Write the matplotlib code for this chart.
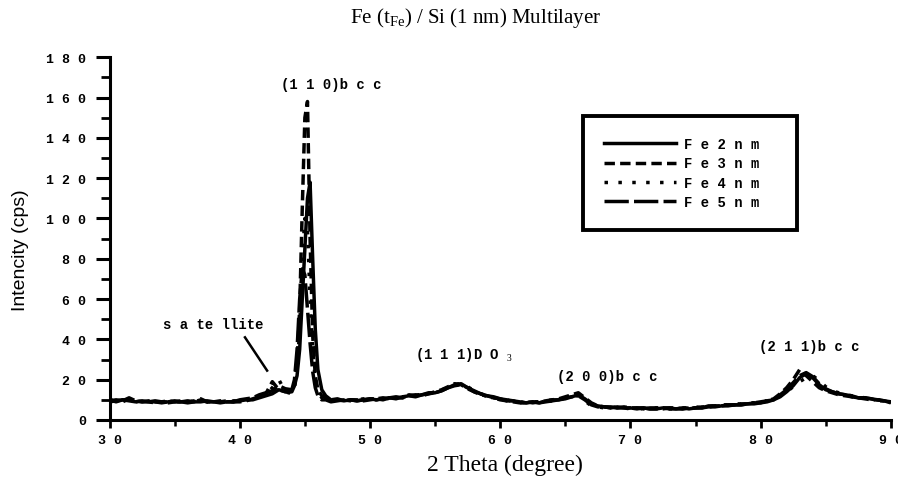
import numpy as np
import matplotlib
matplotlib.use("Agg")
import matplotlib.pyplot as plt
from matplotlib.ticker import MultipleLocator, FuncFormatter

plt.rcParams["mathtext.fontset"] = "custom"
plt.rcParams["mathtext.rm"] = "Liberation Serif"
plt.rcParams["mathtext.it"] = "Liberation Serif:italic"
plt.rcParams["mathtext.bf"] = "Liberation Serif:bold"

# 2-theta sampling (degrees): coarse baseline, finer over the (110) peak
theta_head = np.arange(30.0, 44.0, 0.5)
theta_peak = np.array([44.0, 44.2, 44.4, 44.6, 44.8, 45.0, 45.2, 45.4, 45.6, 45.8, 46.0, 46.3, 46.6, 47.0])
theta_tail = np.arange(47.5, 90.25, 0.5)
two_theta = np.concatenate([theta_head, theta_peak, theta_tail])

# intensities (cps)
fe2 = [10, 9, 10, 9.5, 9, 9.5, 9, 9, 8.5, 9, 9.5, 9, 8.5, 9, 9, 9.5, 9, 8.5, 9, 9, 9.5, 10, 10, 11, 12, 13, 15, 14,
       14, 17, 22, 35, 60, 85, 110, 118, 80, 45, 25, 15, 12, 10,
       10, 9.5, 10, 9.5, 10, 10.5, 10, 10.5, 11, 10.5,
       11.5, 12, 11.5, 12.5, 13, 13.5, 14.5, 16, 17.5, 18,
       16, 14.5, 13, 12, 11.5, 10.5, 10, 9.5, 9, 8.5,
       9, 8.5, 9, 9.5, 10, 10.5, 11.5, 12.5, 10.5, 8,
       7, 6.5, 6.5, 6, 6, 6, 5.5, 6, 5.5, 5.5,
       6, 5.5, 5.5, 6, 5.5, 6, 6, 6.5, 6.5, 7,
       7, 7.5, 7.5, 8, 8, 8.5, 9, 10, 11.5, 14,
       17, 21, 23, 21, 17.5, 15, 14, 13, 12.5, 12,
       11, 11, 10.5, 10, 9.5, 9]
fe3 = [9.5, 10, 9.5, 11, 9.5, 9, 9.5, 9, 9, 9.5, 9, 9.5, 9, 9, 10.5, 9, 9, 9, 9.5, 9, 9, 9.5, 10.5, 11.5, 13, 19, 15, 14,
       14, 18, 28, 55, 105, 150, 158, 90, 42, 22, 15, 12, 11, 10,
       10.5, 9.5, 10, 10, 9.5, 10, 10.5, 11, 10.5, 11,
       11, 12, 12.5, 12, 13, 14, 15, 16.5, 18, 17.5,
       15.5, 14, 12.5, 12, 11, 10, 9.5, 9, 8.5, 9,
       8.5, 9, 9.5, 10, 10.5, 11.5, 12.5, 13.5, 11, 8.5,
       7, 6.5, 6, 6, 6.5, 6, 6, 5.5, 6, 6,
       5.5, 6, 6, 5.5, 6, 6, 6.5, 6.5, 7, 7,
       7.5, 7.5, 8, 8, 8.5, 9, 9.5, 10.5, 13, 16,
       20, 25, 22, 19, 16, 14.5, 13.5, 12.5, 12, 11.5,
       11, 10.5, 10, 10, 9.5, 9]
fe4 = [10, 9.5, 9, 10.5, 9, 9.5, 9, 8.5, 9, 9, 9, 9, 9, 9.5, 9.5, 9, 8.5, 9, 9, 9.5, 9.5, 10, 11, 12, 12.5, 16, 20, 14,
       13, 16, 24, 45, 80, 100, 95, 60, 35, 20, 14, 11, 10, 10,
       10, 10, 9.5, 10, 10.5, 10, 10, 10.5, 11, 11,
       11.5, 11.5, 12, 13, 13, 14, 15, 16, 17, 18.5,
       16.5, 14.5, 13, 12, 11, 10.5, 10, 9, 9, 8.5,
       9, 9, 9, 9.5, 10, 11, 12, 12, 9.5, 7,
       6.5, 6, 6.5, 6, 5.5, 6, 6, 5.5, 5.5, 6,
       6, 5.5, 5.5, 6, 6, 6.5, 6, 6.5, 7, 7.5,
       7.5, 8, 8, 8.5, 8.5, 9, 9.5, 10, 12, 14,
       16.5, 19, 21, 22, 19.5, 16.5, 14.5, 13.5, 12.5, 12,
       11.5, 11, 10.5, 10, 9.5, 9]
fe5 = [9, 9.5, 10, 10, 9.5, 9, 9, 9.5, 9, 8.5, 9, 9, 9.5, 9, 10, 9, 9, 9.5, 9, 9, 10, 10.5, 11, 12.5, 13.5, 14.5, 17, 15.5,
       15, 20, 35, 60, 75, 72, 55, 38, 24, 16, 12, 10, 10, 9,
       9.5, 10, 10, 9.5, 10, 10.5, 10.5, 10, 11, 11.5,
       11, 12.5, 12, 12.5, 13.5, 13.5, 14.5, 16, 17, 17.5,
       16, 14, 13, 11.5, 11, 10.5, 9.5, 9.5, 8.5, 8.5,
       9, 8.5, 9.5, 10, 10, 11, 11.5, 12, 10, 7.5,
       6.5, 6.5, 6, 6.5, 6, 5.5, 6, 6, 5.5, 5.5,
       6, 6, 5.5, 5.5, 6, 6, 6, 7, 7, 7,
       7.5, 7.5, 7.5, 8, 8.5, 8.5, 9.5, 10, 12.5, 15,
       18.5, 22, 23.5, 21.5, 18, 15.5, 14, 13, 12.5, 11.5,
       11, 11, 10.5, 9.5, 9.5, 8.5]

labels = ["Fe2nm", "Fe3nm", "Fe4nm", "Fe5nm"]
styles = ["-", (0, (3, 1.5)), (0, (1, 3)), (0, (7, 1.5))]

peak_names = ["(1 1 0)b c c", "(1 1 1)D O $_3$", "(2 0 0)b c c", "(2 1 1)b c c"]
peak_pos = [(47.0, 166.5), (57.2, 32.7), (68.2, 21.8), (83.7, 36.7)]


def spaced(s):
    # the typewriter labels on the original are letter-spaced
    return " ".join(s)


mono = "Liberation Mono"
serif = "Liberation Serif"

fig = plt.figure(figsize=(8.98, 4.85), dpi=100)
ax = fig.add_axes([0.122, 0.132, 0.870, 0.748])

for y, lab, ls in zip([fe2, fe3, fe4, fe5], labels, styles):
    ax.plot(two_theta, y, color="black", lw=2.5, linestyle=ls, label=spaced(lab) + "  ")

ax.set_xlim(30, 90)
ax.set_ylim(0, 180)
ax.spines["top"].set_visible(False)
ax.spines["right"].set_visible(False)
ax.spines["left"].set_linewidth(2.2)
ax.spines["bottom"].set_linewidth(2.2)

ax.xaxis.set_major_locator(MultipleLocator(10))
ax.xaxis.set_minor_locator(MultipleLocator(5))
ax.yaxis.set_major_locator(MultipleLocator(20))
ax.yaxis.set_minor_locator(MultipleLocator(10))
fmt = FuncFormatter(lambda v, p: spaced(str(int(round(v)))))
ax.xaxis.set_major_formatter(fmt)
ax.yaxis.set_major_formatter(fmt)
ax.tick_params(axis="y", which="major", length=10, width=2.2, direction="out", pad=7)
ax.tick_params(axis="y", which="minor", length=6.5, width=2, direction="out")
ax.tick_params(axis="x", which="major", length=6, width=2, direction="out", pad=4)
ax.tick_params(axis="x", which="minor", length=4, width=1.8, direction="out")
for t in ax.get_xticklabels() + ax.get_yticklabels():
    t.set_fontfamily(mono)
    t.set_fontweight("bold")
    t.set_fontsize(9.5)

fig.text(0.530, 0.963, r"Fe (t$_{\mathrm{Fe}}$) / Si (1 nm) Multilayer",
         family=serif, fontsize=15, ha="center", va="center")
fig.text(0.562, 0.040, "2 Theta (degree)", family=serif, fontsize=17, ha="center", va="center")
fig.text(0.023, 0.485, "Intencity (cps)", family="Liberation Sans", fontsize=14,
         rotation=90, ha="center", va="center")

for name, (px, py) in zip(peak_names, peak_pos):
    ax.text(px, py, name, family=mono, fontweight="bold", fontsize=10, ha="center", va="center")

ax.text(38.0, 47.5, "s a te llite", family=mono, fontweight="bold", fontsize=10, ha="center", va="center")
ax.plot([40.4, 42.1], [41.0, 24.5], color="black", lw=1.8)

leg = ax.legend(loc="upper left", bbox_to_anchor=(0.606, 0.837), borderaxespad=0,
                prop={"family": mono, "weight": "bold", "size": 10},
                handlelength=5.2, labelspacing=0.38, borderpad=1.5, handletextpad=0.6,
                fancybox=False, framealpha=1, edgecolor="black")
leg.get_frame().set_linewidth(2.8)

fig.savefig("out.png", dpi=100)
